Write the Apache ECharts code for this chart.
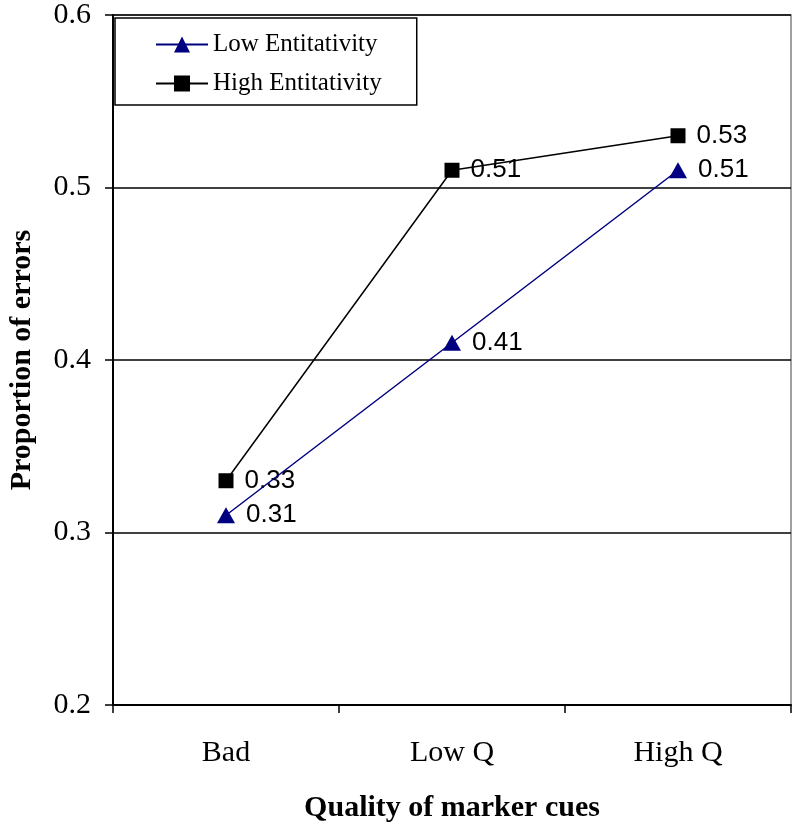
<!DOCTYPE html>
<html><head><meta charset="utf-8">
<script src="https://cdn.jsdelivr.net/npm/echarts@6/dist/echarts.min.js"></script>
<style>html,body{margin:0;padding:0;background:#fff}#c{width:792px;height:830px}</style>
</head><body><div id="c"></div>
<script>
const categories = ["Bad", "Low Q", "High Q"];
const lowEntitativity = [0.31, 0.41, 0.51];
const highEntitativity = [0.33, 0.51, 0.53];
const yTicks = [0.2, 0.3, 0.4, 0.5, 0.6];

const chart = echarts.init(document.getElementById('c'), null, {renderer: 'canvas'});
const serif = '"Liberation Serif", "Times New Roman", serif';
const sans = '"Liberation Sans", Arial, sans-serif';
chart.setOption({
  animation: false,
  backgroundColor: '#fff',
  grid: {left: 113, right: 1, top: 15, bottom: 125, show: true, borderColor: '#808080', borderWidth: 1.5, outerBoundsMode: 'none', containLabel: false},
  legend: {
    orient: 'vertical', left: 115, top: 18,
    padding: [14, 35, 9, 40],
    itemGap: 14,
    borderColor: '#000', borderWidth: 1.5,
    backgroundColor: '#fff',
    itemWidth: 52, itemHeight: 20,
    textStyle: {fontFamily: serif, fontSize: 25, color: '#000'},
    data: ['Low Entitativity', 'High Entitativity']
  },
  xAxis: {
    type: 'category', data: categories, boundaryGap: true,
    axisLine: {lineStyle: {color: '#000', width: 2}},
    axisTick: {show: true, length: 8, lineStyle: {color: '#000', width: 1.5}},
    axisLabel: {fontFamily: serif, fontSize: 30, color: '#000', margin: 33},
    name: 'Quality of marker cues', nameLocation: 'middle', nameGap: 88,
    nameTextStyle: {fontFamily: serif, fontSize: 30, fontWeight: 'bold', color: '#000'}
  },
  yAxis: {
    type: 'value', min: yTicks[0], max: yTicks[yTicks.length - 1], interval: 0.1,
    axisLine: {show: true, lineStyle: {color: '#000', width: 2}},
    axisTick: {show: true, length: 8, lineStyle: {color: '#000', width: 1.5}},
    axisLabel: {fontFamily: serif, fontSize: 30, color: '#000', margin: 22, formatter: v => v.toFixed(1)},
    splitLine: {show: true, lineStyle: {color: '#000', width: 1.5}},
    name: 'Proportion of errors', nameLocation: 'middle', nameGap: 76,
    nameTextStyle: {fontFamily: serif, fontSize: 30, fontWeight: 'bold', color: '#000'}
  },
  series: [
    {
      name: 'Low Entitativity', type: 'line', data: lowEntitativity,
      symbol: 'triangle', symbolSize: [18, 16],
      lineStyle: {color: '#000080', width: 1.5},
      itemStyle: {color: '#000080'},
      label: {show: true, position: 'right', distance: 11, fontFamily: sans, fontSize: 26, color: '#000', formatter: p => p.value.toFixed(2)},
      z: 3
    },
    {
      name: 'High Entitativity', type: 'line', data: highEntitativity,
      symbol: 'rect', symbolSize: 15,
      lineStyle: {color: '#000', width: 1.5},
      itemStyle: {color: '#000'},
      label: {show: true, position: 'right', distance: 11, fontFamily: sans, fontSize: 26, color: '#000', formatter: p => p.value.toFixed(2)},
      z: 2
    }
  ]
});
</script></body></html>
